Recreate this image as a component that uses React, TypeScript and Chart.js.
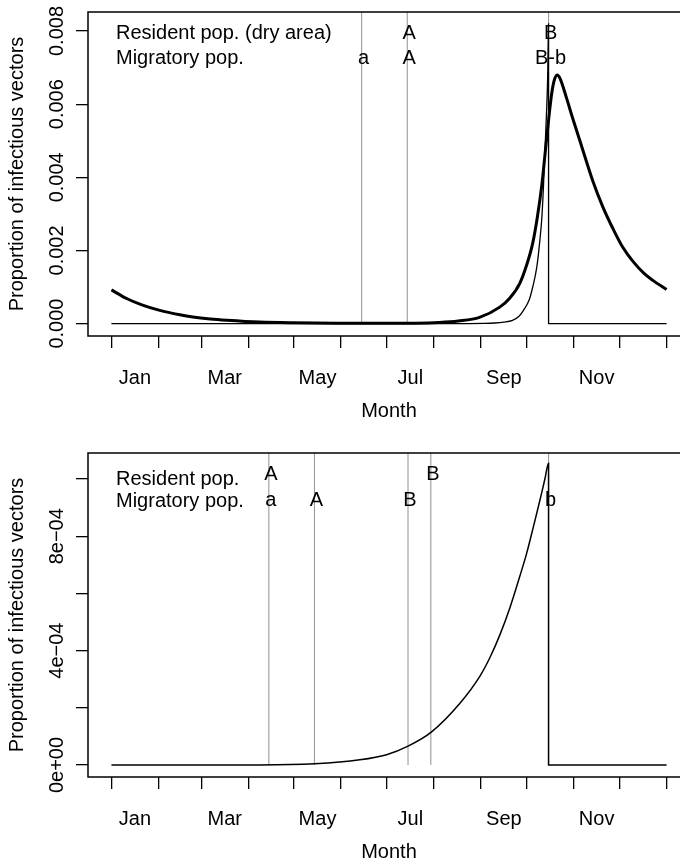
import React, { useEffect, useRef } from "react";
import { Chart, registerables } from "chart.js";

Chart.register(...registerables);

// ---------- shared axis data ----------
const monthStartDays = [0, 31, 59, 90, 120, 151, 181, 212, 243, 273, 304, 334, 365];
const monthLabels = ["Jan", "Mar", "May", "Jul", "Sep", "Nov"];
const monthLabelDays = [15.5, 74.5, 135.5, 196.5, 258, 319];
const xTitle = "Month";
const yTitle = "Proportion of infectious vectors";

// ---------- top panel data ----------
const topYTicks = [0, 0.002, 0.004, 0.006, 0.008];
const topYTickLabels = ["0.000", "0.002", "0.004", "0.006", "0.008"];

const topThickDays = [0, 10, 20, 31.8, 45, 53.5, 65, 75.9, 97.5, 120, 150, 180, 200, 215, 228, 242, 255.3, 262, 268.5, 273, 277, 280, 283, 286, 289.5, 291.5, 293.2, 295, 299, 303, 308, 316.5, 323, 329.7, 336, 342.9, 350, 356, 365];
const topThickValues = [0.00092, 0.000685, 0.00051, 0.00036, 0.00024, 0.00018, 0.000125, 0.00009, 0.00004, 0.00002, 0.00001, 0.000008, 0.000012, 0.00003, 0.00007, 0.00017, 0.00045, 0.0007, 0.0011, 0.0016, 0.0022, 0.0029, 0.0038, 0.005, 0.0063, 0.0067, 0.0068, 0.0067, 0.0062, 0.00565, 0.005, 0.0039, 0.0032, 0.0026, 0.0021, 0.0017, 0.00138, 0.00118, 0.00093];

const topThinDays = [0, 235, 245, 252, 258, 263.7, 268, 271, 274.7, 277, 279.7, 281.5, 283, 284, 285, 286, 286.8, 287.4, 287.4, 365];
const topThinValues = [0, 0, 0.000004, 0.000015, 0.00004, 0.00009, 0.0002, 0.00037, 0.00065, 0.001, 0.00155, 0.0022, 0.0029, 0.0037, 0.0047, 0.0057, 0.0067, 0.0082, 0, 0];

const topVLineDays = [164.5, 194.5, 287.4];
const topLegend = ["Resident pop. (dry area)", "Migratory pop."];
const topRow1Letters = ["A", "B"];
const topRow1Days = [194.5, 287.4];
const topRow2Letters = ["a", "A", "B-b"];
const topRow2Days = [164.5, 194.5, 287.4];

// ---------- bottom panel data ----------
const botYTicks = [0, 0.0002, 0.0004, 0.0006, 0.0008, 0.001];
const botYTickLabels = ["0e+00", "", "4e\u221204", "", "8e\u221204", ""];

const botDays = [0, 97.5, 133.7, 163.3, 180.9, 195, 210.5, 229, 242.2, 248.8, 255.4, 262, 268.5, 273, 277.3, 280, 282.8, 285, 287.4, 287.4, 365];
const botValues = [0, 0, 0.000004, 0.000018, 0.000036, 0.000066, 0.000116, 0.000215, 0.00031, 0.000375, 0.000455, 0.00055, 0.00066, 0.00074, 0.00083, 0.000888, 0.00095, 0.001, 0.001055, 0, 0];

const botVLineDays = [103.5, 133.5, 195, 210, 287.4];
const botLegend = ["Resident pop.", "Migratory pop."];
const botRow1Letters = ["A", "B"];
const botRow1Days = [103.5, 210];
const botRow2Letters = ["a", "A", "B", "b"];
const botRow2Days = [103.5, 133.5, 195, 287.4];

// ---------- helpers ----------
const FONT = '20px "Liberation Sans", Arial, Helvetica, sans-serif';

function toPoints(xs: number[], ys: number[]) {
  return xs.map((x, i) => ({ x, y: ys[i] }));
}

type Curve = { days: number[]; values: number[]; width: number };
type PanelProps = {
  top: number;
  yMin: number;
  yMax: number;
  yTicks: number[];
  yTickLabels: string[];
  curves: Curve[];
  vlines: number[];
  legend: string[];
  legendBaselines: number[];
  row1Letters: string[];
  row1Days: number[];
  row1Baseline: number;
  row2Letters: string[];
  row2Days: number[];
  row2Baseline: number;
};

function Panel(p: PanelProps) {
  const ref = useRef<HTMLCanvasElement | null>(null);
  useEffect(() => {
    if (!ref.current) return;
    const datasets: any[] = [];
    p.curves.forEach((c) => {
      datasets.push({
        data: toPoints(c.days, c.values),
        borderColor: "#000",
        borderWidth: c.width,
        pointRadius: 0,
        fill: false,
        cubicInterpolationMode: "monotone",
        order: 0,
      });
    });
    p.vlines.forEach((d) => {
      datasets.push({
        data: [
          { x: d, y: 0 },
          { x: d, y: p.yMax },
        ],
        borderColor: "#9a9a9a",
        borderWidth: 1.1,
        pointRadius: 0,
        fill: false,
        tension: 0,
        order: 10,
      });
    });

    const textPlugin = {
      id: "rtext",
      afterDraw(chart: any) {
        const ctx = chart.ctx as CanvasRenderingContext2D;
        const a = chart.chartArea;
        const xs = chart.scales.x;
        const ys = chart.scales.y;
        ctx.save();
        ctx.strokeStyle = "#000";
        ctx.lineWidth = 1.5;
        ctx.strokeRect(a.left, a.top, a.right - a.left, a.bottom - a.top);
        ctx.fillStyle = "#000";
        ctx.font = FONT;
        ctx.textAlign = "center";
        ctx.textBaseline = "alphabetic";
        monthLabels.forEach((lab, i) => {
          ctx.fillText(lab, xs.getPixelForValue(monthLabelDays[i]), a.bottom + 48);
        });
        ctx.fillText(xTitle, xs.getPixelForValue(182.5), a.bottom + 81);
        p.yTicks.forEach((v, i) => {
          const lab = p.yTickLabels[i];
          if (!lab) return;
          ctx.save();
          ctx.translate(63, ys.getPixelForValue(v));
          ctx.rotate(-Math.PI / 2);
          ctx.textAlign = "center";
          ctx.fillText(lab, 0, 0);
          ctx.restore();
        });
        ctx.save();
        ctx.translate(23, (a.top + a.bottom) / 2);
        ctx.rotate(-Math.PI / 2);
        ctx.textAlign = "center";
        ctx.fillText(yTitle, 0, 0);
        ctx.restore();
        ctx.textAlign = "left";
        p.legend.forEach((t, i) => {
          ctx.fillText(t, 116, p.legendBaselines[i]);
        });
        ctx.textAlign = "center";
        p.row1Letters.forEach((t, i) => {
          ctx.fillText(t, xs.getPixelForValue(p.row1Days[i]) + 2, p.row1Baseline);
        });
        p.row2Letters.forEach((t, i) => {
          ctx.fillText(t, xs.getPixelForValue(p.row2Days[i]) + 2, p.row2Baseline);
        });
        ctx.restore();
      },
    };

    const chart = new Chart(ref.current, {
      type: "line",
      data: { datasets },
      options: {
        animation: false,
        responsive: false,
        devicePixelRatio: 1,
        layout: { padding: { top: 12, right: 10, left: 0, bottom: 0 } },
        plugins: { legend: { display: false }, tooltip: { enabled: false } },
        events: [],
        scales: {
          x: {
            type: "linear",
            min: -15.4,
            max: 380.4,
            afterBuildTicks: (s: any) => {
              s.ticks = monthStartDays.map((v) => ({ value: v }));
            },
            afterFit: (s: any) => {
              s.height = 105;
            },
            ticks: { display: false, autoSkip: false },
            grid: {
              display: true,
              drawOnChartArea: false,
              drawTicks: true,
              tickLength: 12,
              color: "#000",
              lineWidth: 1.3,
            },
            border: { display: false },
          },
          y: {
            type: "linear",
            min: p.yMin,
            max: p.yMax,
            afterBuildTicks: (s: any) => {
              s.ticks = p.yTicks.map((v) => ({ value: v }));
            },
            afterFit: (s: any) => {
              s.width = 88;
            },
            ticks: { display: false, autoSkip: false },
            grid: {
              display: true,
              drawOnChartArea: false,
              drawTicks: true,
              tickLength: 12,
              color: "#000",
              lineWidth: 1.3,
            },
            border: { display: false },
          },
        },
      } as any,
      plugins: [textPlugin],
    });
    return () => chart.destroy();
  }, []);

  return (
    <div
      style={{
        position: "absolute",
        left: 0,
        top: p.top,
        width: 680,
        height: 441,
        overflow: "hidden",
      }}
    >
      <canvas ref={ref} width={700} height={441} style={{ width: 700, height: 441, display: "block" }} />
    </div>
  );
}

export default function App() {
  return (
    <div
      style={{
        position: "absolute",
        left: 0,
        top: 0,
        width: 680,
        height: 863,
        overflow: "hidden",
        background: "#fff",
      }}
    >
      <Panel
        top={0}
        yMin={-0.00034}
        yMax={0.00852}
        yTicks={topYTicks}
        yTickLabels={topYTickLabels}
        curves={[
          { days: topThickDays, values: topThickValues, width: 3 },
          { days: topThinDays, values: topThinValues, width: 1.3 },
        ]}
        vlines={topVLineDays}
        legend={topLegend}
        legendBaselines={[39, 63.5]}
        row1Letters={topRow1Letters}
        row1Days={topRow1Days}
        row1Baseline={39}
        row2Letters={topRow2Letters}
        row2Days={topRow2Days}
        row2Baseline={63.5}
      />
      <Panel
        top={441}
        yMin={-0.000042}
        yMax={0.001091}
        yTicks={botYTicks}
        yTickLabels={botYTickLabels}
        curves={[{ days: botDays, values: botValues, width: 1.5 }]}
        vlines={botVLineDays}
        legend={botLegend}
        legendBaselines={[44, 65.5]}
        row1Letters={botRow1Letters}
        row1Days={botRow1Days}
        row1Baseline={39}
        row2Letters={botRow2Letters}
        row2Days={botRow2Days}
        row2Baseline={65}
      />
    </div>
  );
}
